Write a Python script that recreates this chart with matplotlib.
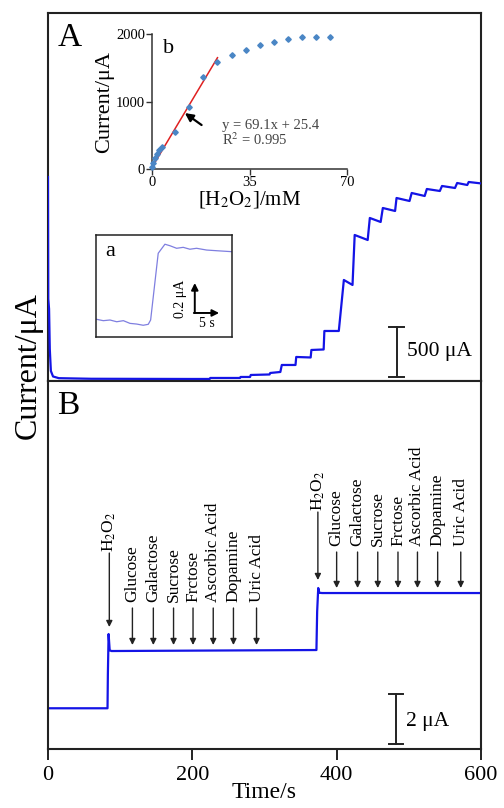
import matplotlib
matplotlib.use('Agg')
import matplotlib.pyplot as plt

plt.rcParams['font.family'] = ['Liberation Serif', 'DejaVu Serif']
plt.rcParams['mathtext.fontset'] = 'stix'

# panel A: amperometric response to successive H2O2 additions (time s, current uA)
trace_a_t = [0, 0.4, 1.5, 2.5, 4, 7, 15, 60, 197, 224, 225, 266, 267, 280, 281, 307, 308,
             322, 324, 343, 344, 364, 365, 382, 383, 403, 410, 422, 425, 443, 446, 461, 464,
             481, 483, 501, 504, 522, 525, 543, 546, 564, 567, 581, 583, 601]
trace_a_i = [2020, 800, 700, 300, 80, 25, 8, 2, 0, 0, 10, 10, 20, 20, 40, 45, 60,
             70, 140, 140, 220, 215, 290, 295, 480, 480, 990, 940, 1440, 1390, 1610, 1570, 1710,
             1680, 1810, 1780, 1860, 1830, 1900, 1880, 1930, 1910, 1960, 1940, 1970, 1955]

# inset a: single addition zoomed (s, uA)
trace_inset_t = [0.14, 1.59, 3.04, 4.50, 5.96, 7.39, 8.85, 10.28, 11.37, 11.89, 13.54, 15.0,
                 16.09, 17.54, 18.98, 20.43, 21.89, 24.07, 26.24, 29.5]
trace_inset_i = [0.131, 0.121, 0.126, 0.113, 0.121, 0.101, 0.096, 0.087, 0.094, 0.126, 0.620,
                 0.687, 0.676, 0.657, 0.664, 0.650, 0.657, 0.644, 0.639, 0.632]

# inset b: calibration (mM, uA)
conc = [0.1, 0.5, 1.0, 1.8, 2.6, 3.5, 8.4, 13.4, 18.4, 23.4, 28.6, 33.6, 38.8, 43.8,
        48.7, 53.7, 58.8, 63.9]
current = [34, 84, 158, 218, 281, 330, 543, 923, 1367, 1589, 1688, 1763, 1837, 1876,
           1920, 1950, 1950, 1950]
fit_slope = 69.1
fit_icpt = 25.4
fit_end = 23.5

# panel B: selectivity test
trace_b_t = [0, 82.5, 83, 84, 85.5, 88, 372, 373, 374.5, 376, 380, 600]
trace_b_i = [1.63, 1.63, 3.0, 4.6, 3.95, 3.92, 3.96, 5.5, 6.44, 6.25, 6.24, 6.24]
h2o2_times = [85, 374]
interferents = ['Glucose', 'Galactose', 'Sucrose', 'Frctose', 'Ascorbic Acid', 'Dopamine', 'Uric Acid']
interf_times_1 = [117, 146, 174, 201, 229, 257, 289]
interf_times_2 = [400, 429, 457, 485, 512, 540, 572]

edge = '#222222'
blue = '#1414e6'

fig = plt.figure(figsize=(5.04, 8.08), dpi=100)
axA = fig.add_axes([0.0952, 0.5285, 0.8591, 0.4554])
axB = fig.add_axes([0.0952, 0.0730, 0.8591, 0.4554])

for ax in (axA, axB):
    for s in ax.spines.values():
        s.set_color(edge)
        s.set_linewidth(1.5)

# --- panel A
axA.plot(trace_a_t, trace_a_i, color=blue, lw=1.6, zorder=3)
axA.set_xlim(0, 600)
axA.set_ylim(-20, 3660)
axA.set_xticks([])
axA.set_yticks([])
axA.text(0.022, 0.975, 'A', transform=axA.transAxes, fontsize=24, va='top', ha='left')
# 500 uA scale bar
axA.plot([483, 483], [20, 520], color=edge, lw=1.4)
axA.plot([473, 493], [20, 20], color=edge, lw=1.4)
axA.plot([473, 493], [520, 520], color=edge, lw=1.4)
axA.text(497, 270, '500 μA', fontsize=15.5, va='center', ha='left')

# --- panel B
axB.plot(trace_b_t, trace_b_i, color=blue, lw=1.6)
axB.set_xlim(0, 600)
axB.set_ylim(0, 14.72)
axB.set_yticks([])
axB.set_xticks([0, 200, 400, 600])
axB.tick_params(axis='x', direction='out', length=8, width=1.4, color=edge, labelsize=16, pad=4)
axB.set_xlabel('Time/s', fontsize=17, labelpad=-2)
axB.text(0.022, 0.975, 'B', transform=axB.transAxes, fontsize=24, va='top', ha='left')
axB.plot([482, 482], [0.2, 2.2], color=edge, lw=1.4)
axB.plot([472, 492], [0.2, 0.2], color=edge, lw=1.4)
axB.plot([472, 492], [2.2, 2.2], color=edge, lw=1.4)
axB.text(496, 1.1, '2 μA', fontsize=15.5, va='center', ha='left')

arrow_kw = dict(arrowstyle='-|>', lw=1.0, color=edge, mutation_scale=9, shrinkA=0, shrinkB=0)
groups = [(h2o2_times[0], interf_times_1, (7.84, 4.88), (5.64, 4.16), 5.88),
          (h2o2_times[1], interf_times_2, (9.48, 6.76), (7.88, 6.44), 8.12)]
for t_h, times, h_arrow, i_arrow, lab_y in groups:
    axB.annotate('', xy=(t_h, h_arrow[1]), xytext=(t_h, h_arrow[0]), arrowprops=arrow_kw)
    axB.text(t_h, h_arrow[0] + 0.05, 'H$_2$O$_2$', rotation=90, fontsize=12.5,
             ha='center', va='bottom')
    for name, t in zip(interferents, times):
        axB.annotate('', xy=(t, i_arrow[1]), xytext=(t, i_arrow[0]), arrowprops=arrow_kw)
        axB.text(t, lab_y, name, rotation=90, fontsize=12.5, ha='center', va='bottom')

fig.text(0.056, 0.548, 'Current/μA', rotation=90, fontsize=23, ha='center', va='center')

# --- inset a
axa = fig.add_axes([0.1905, 0.5829, 0.2698, 0.1262])
axa.plot(trace_inset_t, trace_inset_i, color='#7f7fe0', lw=0.9)
axa.set_xlim(0, 29.6)
axa.set_ylim(0, 0.755)
axa.set_xticks([])
axa.set_yticks([])
for s in axa.spines.values():
    s.set_color(edge)
    s.set_linewidth(1.1)
axa.text(0.07, 0.93, 'a', transform=axa.transAxes, fontsize=16, va='top', ha='left')
sb_kw = dict(arrowstyle='-|>', lw=1.4, color='k', mutation_scale=10, shrinkA=0, shrinkB=0)
axa.annotate('', xy=(21.5, 0.40), xytext=(21.5, 0.178), arrowprops=sb_kw)
axa.annotate('', xy=(26.8, 0.178), xytext=(21.3, 0.178), arrowprops=sb_kw)
axa.text(18.4, 0.28, '0.2 μA', rotation=90, fontsize=10, ha='center', va='center')
axa.text(24.2, 0.10, '5 s', fontsize=10, ha='center', va='center')

# --- inset b
axb = fig.add_axes([0.3016, 0.7908, 0.3869, 0.1671])
axb.plot(conc, current, 'D', color='#4a86c5', ms=2.8, clip_on=False, zorder=3)
fit_x = [0, fit_end]
fit_y = [fit_icpt + fit_slope * x for x in fit_x]
axb.plot(fit_x, fit_y, color='#e02020', lw=1.1, zorder=2)
axb.set_xlim(0, 70)
axb.set_ylim(0, 2000)
axb.set_xticks([0, 35, 70])
axb.set_yticks([0, 1000, 2000])
axb.patch.set_alpha(0)
for side in ('top', 'right'):
    axb.spines[side].set_visible(False)
for side in ('left', 'bottom'):
    axb.spines[side].set_color('#333333')
    axb.spines[side].set_linewidth(1.1)
axb.tick_params(direction='out', length=4, width=1.0, color='#333333', labelsize=10.5, pad=1)
axb.set_ylabel('Current/μA', fontsize=16, labelpad=1)
axb.set_xlabel('[H$_2$O$_2$]/mM', fontsize=15, labelpad=0)
axb.text(0.055, 0.96, 'b', transform=axb.transAxes, fontsize=16, va='top', ha='left')
axb.annotate('', xy=(11.8, 829), xytext=(17.8, 652),
             arrowprops=dict(arrowstyle='-|>', lw=1.6, color='k', mutation_scale=12,
                             shrinkA=0, shrinkB=0))
axb.text(25.1, 652, 'y = 69.1x + 25.4', fontsize=10.5, color='#444444', va='center', ha='left')
axb.text(25.1, 430, 'R$^2$ = 0.995', fontsize=10.5, color='#444444', va='center', ha='left')

fig.savefig('out.png', dpi=100)
